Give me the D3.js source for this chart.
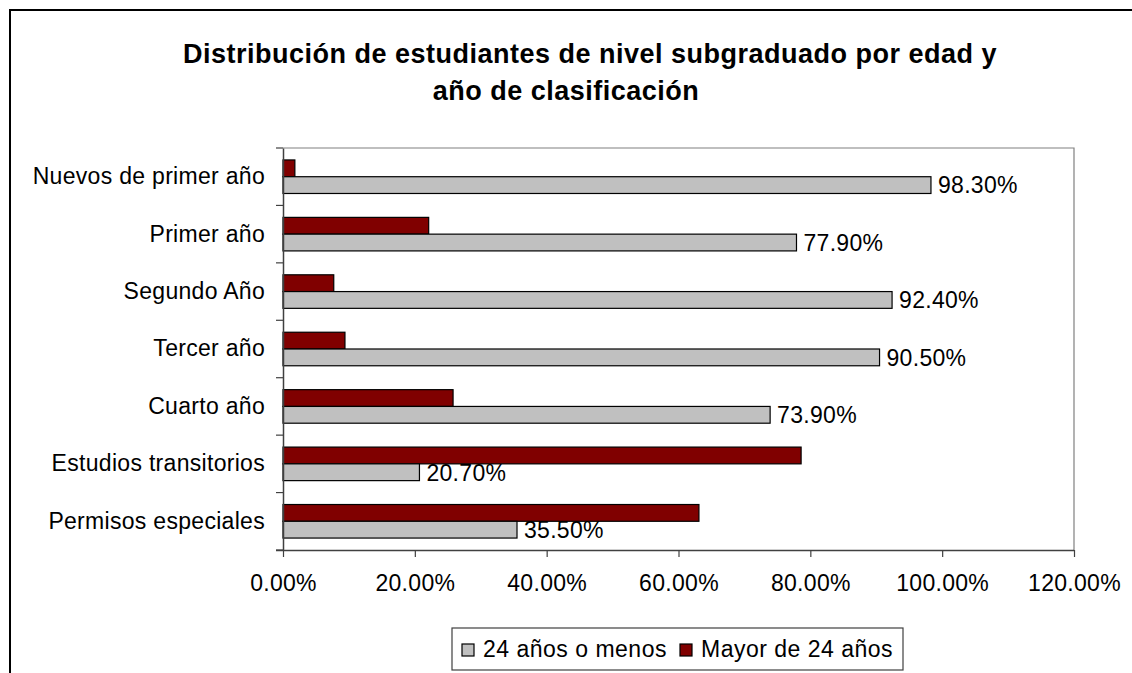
<!DOCTYPE html>
<html>
<head>
<meta charset="utf-8">
<script src="https://cdn.jsdelivr.net/npm/d3@7"></script>
<style>
  body { margin:0; background:#fff; }
  svg { display:block; font-family: Arial, "Liberation Sans", sans-serif; }
</style>
</head>
<body>
<div id="chart-area"></div>
<script>
const categories = ['Nuevos de primer año','Primer año','Segundo Año','Tercer año','Cuarto año','Estudios transitorios','Permisos especiales'];
const series = ['Mayor de 24 años','24 años o menos'];
const menos24 = [98.3, 77.9, 92.4, 90.5, 73.9, 20.7, 35.5];
const mayor24 = [1.8, 22.1, 7.7, 9.4, 25.8, 78.6, 63.1];
const xTicks = [0, 20, 40, 60, 80, 100, 120];

const colors = {'24 años o menos':'#C0C0C0','Mayor de 24 años':'#800000'};

const W = 1132, H = 673;
const plot = {left:283, right:1074, top:148, bottom:550};
const fs = 23, ls = "0.3px";

var svg = d3.select("#chart-area").append("svg")
    .attr("width", W).attr("height", H);

// outer chart border
svg.append("rect")
   .attr("x",10).attr("y",10).attr("width",W+20).attr("height",H+20)
   .attr("fill","none").attr("stroke","#000").attr("stroke-width",2);

// title
svg.append("text")
   .attr("x",590).attr("y",63)
   .attr("text-anchor","middle").attr("font-size",27).attr("font-weight","bold")
   .attr("letter-spacing","0.5px")
   .text("Distribución de estudiantes de nivel subgraduado por edad y");
svg.append("text")
   .attr("x",566).attr("y",100)
   .attr("text-anchor","middle").attr("font-size",27).attr("font-weight","bold")
   .attr("letter-spacing","0.5px")
   .text("año de clasificación");

var xScale = d3.scaleLinear().domain([0,120]).range([plot.left, plot.right]);
var yScale = d3.scaleBand().domain(categories).range([plot.top, plot.bottom]).padding(0);
var step = yScale.bandwidth();
var barH = step * 0.292;
var gap = (step - 2*barH) / 2;

var data = categories.map((c,i) => ({cat:c, values:[
    {s:'Mayor de 24 años', v:mayor24[i]},
    {s:'24 años o menos', v:menos24[i]}
]}));

// plot area frame (top/right)
svg.append("path")
   .attr("d",`M${plot.left},${plot.top}H${plot.right}V${plot.bottom}`)
   .attr("fill","none").attr("stroke","#808080").attr("stroke-width",1.2);

// bars
var groups = svg.selectAll("g.cat").data(data).enter().append("g")
   .attr("class","cat")
   .attr("transform", d => `translate(0,${yScale(d.cat) + gap})`);

groups.selectAll("rect").data(d => d.values).enter().append("rect")
   .attr("x", xScale(0))
   .attr("y", (d,i) => i*barH)
   .attr("width", d => xScale(d.v) - xScale(0))
   .attr("height", barH)
   .attr("fill", d => colors[d.s])
   .attr("stroke","#000").attr("stroke-width",1.2);

// data labels on the 24 años o menos series
groups.append("text")
   .attr("x", d => xScale(d.values[1].v) + 7)
   .attr("y", barH*1.5)
   .attr("dy","0.36em")
   .attr("font-size",fs).attr("letter-spacing",ls)
   .text(d => d3.format(".2f")(d.values[1].v) + "%");

// x axis
var xAxis = d3.axisBottom(xScale).tickValues(xTicks)
   .tickFormat(d => d3.format(".2f")(d) + "%")
   .tickSize(7).tickPadding(18);
var gx = svg.append("g").attr("transform",`translate(0,${plot.bottom})`).call(xAxis);
gx.select(".domain").attr("stroke","#404040").attr("stroke-width",1.5)
   .attr("d",`M${plot.left-7},0.5H${plot.right}`);
gx.selectAll(".tick line").attr("stroke","#404040").attr("stroke-width",1.2);
gx.selectAll(".tick text").attr("font-size",fs).attr("letter-spacing",ls)
   .attr("font-family","Arial, 'Liberation Sans', sans-serif").attr("fill","#000");

// y axis
var yAxis = d3.axisLeft(yScale).tickSize(0).tickPadding(18);
var gy = svg.append("g").attr("transform",`translate(${plot.left},0)`).call(yAxis);
gy.select(".domain").attr("stroke","#404040").attr("stroke-width",1.5);
gy.selectAll(".tick text").attr("font-size",fs).attr("letter-spacing",ls)
   .attr("font-family","Arial, 'Liberation Sans', sans-serif").attr("fill","#000");

// category boundary ticks
var bounds = categories.map(c => yScale(c)).concat([plot.bottom]);
svg.selectAll("line.ytick").data(bounds).enter().append("line")
   .attr("class","ytick")
   .attr("x1", plot.left-7).attr("x2", plot.left)
   .attr("y1", d => d).attr("y2", d => d)
   .attr("stroke","#404040").attr("stroke-width",1.2);

// legend
var legend = svg.append("g");
legend.append("rect")
   .attr("x",452).attr("y",628).attr("width",451).attr("height",42)
   .attr("fill","#fff").attr("stroke","#404040").attr("stroke-width",1.2);
var legItems = [
  {s:'24 años o menos', x:462},
  {s:'Mayor de 24 años', x:680}
];
legend.selectAll("rect.sw").data(legItems).enter().append("rect")
   .attr("class","sw")
   .attr("x", d => d.x).attr("y",644).attr("width",12).attr("height",12)
   .attr("fill", d => colors[d.s]).attr("stroke","#000").attr("stroke-width",1.2);
legend.selectAll("text").data(legItems).enter().append("text")
   .attr("x", d => d.x + 21).attr("y",657)
   .attr("font-size",fs).attr("letter-spacing","0.5px")
   .text(d => d.s);
</script>
</body>
</html>
